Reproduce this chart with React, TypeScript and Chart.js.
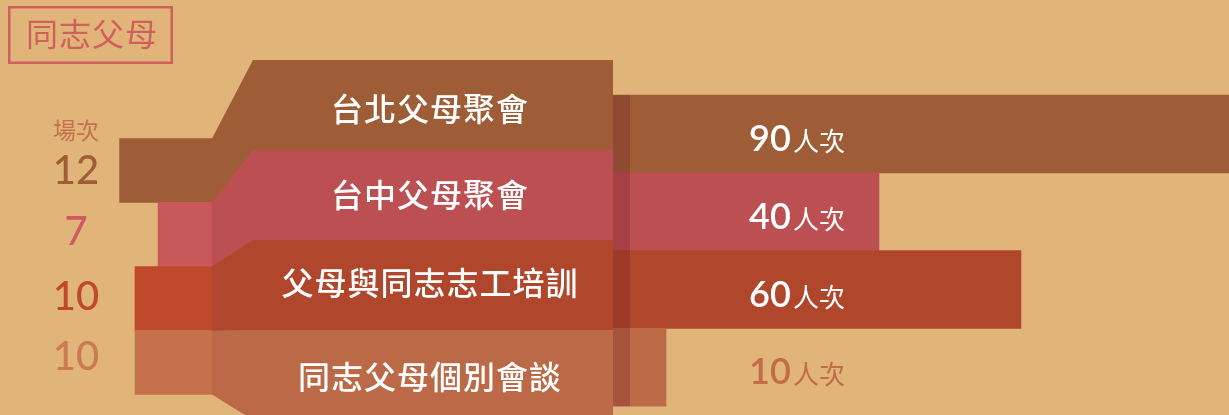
import React, { useEffect, useRef } from "react";
import { Chart, registerables } from "chart.js";

Chart.register(...registerables);

// ---------- data ----------
const TITLE = "同志父母";
const SESSION_HEADER = "場次";
const PROGRAMS = ["台北父母聚會", "台中父母聚會", "父母與同志志工培訓", "同志父母個別會談"];
const SESSIONS = [12, 7, 10, 10];
const ATTENDANCE = [90, 40, 60, 10];
const ATTENDANCE_UNIT = "人次";

// ---------- styles ----------
const BG = "#E1B479";
const TITLE_COLOR = "#D0605E";
const HEADER_COLOR = "#C3714F";
const STUB_COLORS = ["#9E5D37", "#C9585B", "#BF482D", "#C5714C"];
const BAR_COLORS = ["#9E5D37", "#BC4F51", "#B0462C", "#BB6946"];
const SESSION_TEXT_COLORS = ["#9E5D37", "#D05A63", "#C0482C", "#CC7A55"];
const ATTEND_TEXT_COLORS = ["#FFFFFF", "#FFFFFF", "#FFFFFF", "#C26C48"];
const SHADOW = "rgba(100,20,30,0.25)";

const W = 1229;
const H = 415;
const CJK = "'Noto Sans CJK TC', 'Noto Sans CJK SC', sans-serif";
const NUM = "Lato, 'Noto Sans', sans-serif";

const rowTicks = (scale: any) => {
  scale.ticks = PROGRAMS.map((_, i) => ({ value: i }));
};

const decorPlugin = {
  id: "decor",
  beforeDraw(chart: any) {
    const ctx = chart.ctx;
    ctx.save();
    ctx.fillStyle = BG;
    ctx.fillRect(0, 0, chart.width, chart.height);
    ctx.restore();
  },
  afterDatasetsDraw(chart: any) {
    const ctx = chart.ctx as CanvasRenderingContext2D;
    const { xs, ys, ya, yb } = chart.scales;
    const left = xs.getPixelForValue(0);
    const slantEnd = left + 41;
    const panelRight = 613;
    const hs = Math.abs(ys.getPixelForValue(1) - ys.getPixelForValue(0)) / 2;
    const hb = Math.abs(yb.getPixelForValue(1) - yb.getPixelForValue(0)) / 2;
    const ha = Math.abs(ya.getPixelForValue(1) - ya.getPixelForValue(0)) / 2;
    ctx.save();

    // middle label bands (perspective panel)
    PROGRAMS.forEach((_, i) => {
      const cs = ys.getPixelForValue(i);
      const cb = yb.getPixelForValue(i);
      const ext = i < PROGRAMS.length - 1 ? 1 : 0;
      ctx.beginPath();
      ctx.moveTo(left, cs - hs);
      ctx.lineTo(slantEnd, cb - hb);
      ctx.lineTo(panelRight, cb - hb);
      ctx.lineTo(panelRight, cb + hb + ext);
      ctx.lineTo(slantEnd, cb + hb + ext);
      ctx.lineTo(left, cs + hs + ext);
      ctx.closePath();
      ctx.fillStyle = BAR_COLORS[i];
      ctx.fill();
    });

    // shadow strip on the right bars
    const top = ya.getPixelForValue(0) - ha;
    const bottom = ya.getPixelForValue(PROGRAMS.length - 1) + ha;
    ctx.fillStyle = SHADOW;
    ctx.fillRect(panelRight, top, 17, bottom - top);

    // title box
    ctx.strokeStyle = TITLE_COLOR;
    ctx.lineWidth = 2.5;
    ctx.strokeRect(9.25, 7.25, 162.5, 55.5);
    ctx.fillStyle = TITLE_COLOR;
    ctx.font = `400 32px ${CJK}`;
    ctx.textAlign = "center";
    ctx.textBaseline = "middle";
    (ctx as any).letterSpacing = "1px";
    ctx.fillText(TITLE, 92, 34);
    (ctx as any).letterSpacing = "0px";

    // session header
    ctx.fillStyle = HEADER_COLOR;
    ctx.font = `400 23px ${CJK}`;
    ctx.fillText(SESSION_HEADER, 76, 130);

    // session numbers
    ctx.font = `500 40px ${NUM}`;
    const numOffsets = [1, -2, -1, -5];
    SESSIONS.forEach((v, i) => {
      ctx.fillStyle = SESSION_TEXT_COLORS[i];
      ctx.fillText(String(v), 76, ys.getPixelForValue(i) + numOffsets[i]);
    });

    // program labels
    ctx.fillStyle = "#FFFFFF";
    ctx.font = `500 32px ${CJK}`;
    (ctx as any).letterSpacing = "1px";
    const labelOffsets = [4, 0, -2, 2];
    PROGRAMS.forEach((p, i) => {
      ctx.fillText(p, 430, yb.getPixelForValue(i) + labelOffsets[i]);
    });
    (ctx as any).letterSpacing = "0px";

    // attendance labels
    ctx.textAlign = "left";
    ctx.textBaseline = "alphabetic";
    const numFont = `600 36px ${NUM}`;
    const unitFont = `400 26px ${CJK}`;
    ATTENDANCE.forEach((v, i) => {
      const base = ya.getPixelForValue(i) + 17;
      ctx.font = numFont;
      const num = String(v);
      const nw = ctx.measureText(num).width;
      ctx.font = unitFont;
      const uw = ctx.measureText(ATTENDANCE_UNIT).width;
      const gap = 2;
      const start = 797 - (nw + gap + uw) / 2;
      ctx.fillStyle = ATTEND_TEXT_COLORS[i];
      ctx.font = numFont;
      ctx.fillText(num, start, base);
      ctx.font = unitFont;
      ctx.fillText(ATTENDANCE_UNIT, start + nw + gap, base);
    });

    ctx.restore();
  },
};

export default function App() {
  const ref = useRef<HTMLCanvasElement>(null);

  useEffect(() => {
    const chart = new Chart(ref.current as HTMLCanvasElement, {
      type: "bar",
      data: {
        datasets: [
          {
            label: SESSION_HEADER,
            data: SESSIONS.map((v, i) => ({ x: v, y: i })) as any,
            xAxisID: "xs",
            yAxisID: "ys",
            backgroundColor: STUB_COLORS,
            borderWidth: 0,
            grouped: false,
            barPercentage: 1,
            categoryPercentage: 1,
          },
          {
            label: ATTENDANCE_UNIT,
            data: ATTENDANCE.map((v, i) => ({ x: v, y: i })) as any,
            xAxisID: "xa",
            yAxisID: "ya",
            backgroundColor: BAR_COLORS,
            borderWidth: 0,
            grouped: false,
            barPercentage: 1,
            categoryPercentage: 1,
          },
        ],
      },
      options: {
        indexAxis: "y",
        animation: false,
        responsive: false,
        maintainAspectRatio: false,
        layout: { padding: 0 },
        events: [],
        plugins: { legend: { display: false }, tooltip: { enabled: false } },
        scales: {
          xs: { type: "linear", axis: "x", display: false, offset: false, reverse: true, min: -132.07, max: 27.53 },
          xa: { type: "linear", axis: "x", display: false, offset: false, min: -83.8, max: 89.3 },
          ys: {
            type: "linear", axis: "y", display: false, offset: false, reverse: true, bounds: "data",
            min: -2.664, max: 3.82, afterBuildTicks: rowTicks,
          },
          ya: {
            type: "linear", axis: "y", display: false, offset: false, reverse: true, bounds: "data",
            min: -1.7235, max: 3.614, afterBuildTicks: rowTicks,
          },
          yb: {
            type: "linear", axis: "y", display: false, offset: false, reverse: true, bounds: "data",
            min: -1.1667, max: 3.444, afterBuildTicks: rowTicks,
          },
        } as any,
      },
      plugins: [decorPlugin],
    });
    return () => chart.destroy();
  }, []);

  return (
    <div style={{ position: "fixed", left: 0, top: 0, width: W, height: H, background: BG }}>
      <canvas ref={ref} width={W} height={H} style={{ display: "block", width: W, height: H }} />
    </div>
  );
}
